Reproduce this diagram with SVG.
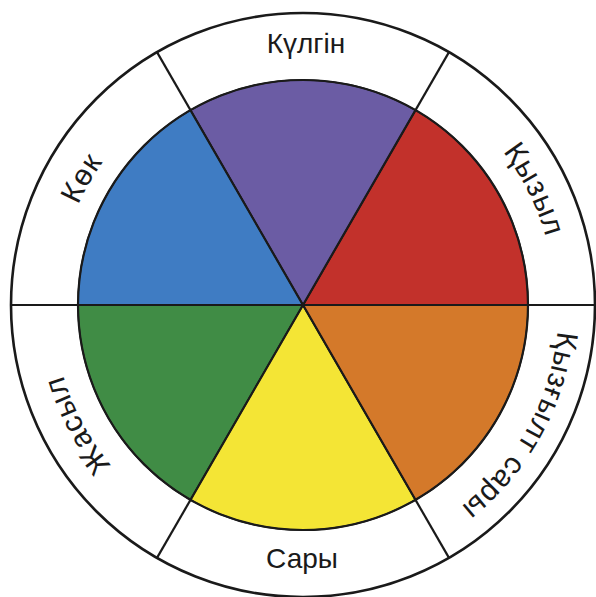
<svg xmlns="http://www.w3.org/2000/svg" width="596" height="597" viewBox="0 0 596 597">
<style>
.w{stroke:#1a1a1a;stroke-width:1.5;stroke-linejoin:round}
.lbl{font-family:"Liberation Sans",Arial,sans-serif;font-size:28px;fill:#1a1a1a;text-anchor:middle}
.arc{font-size:30px;letter-spacing:1px}
.ln{stroke:#1a1a1a;stroke-width:2.2;fill:none}
</style>
<defs>
<path id="p-kyzyl" d="M318.4,53.5 A252,252 0 0 1 513.1,444.1"/>
<path id="p-kok" d="M90.4,428.7 A246,246 0 0 1 302.1,59"/>
<path id="p-zhasyl" d="M294.3,554.8 A250,250 0 0 1 91,172.5"/>
<path id="p-kyzgylt" d="M522.4,173.2 A256,256 0 0 1 307.5,561"/>
</defs>
<rect width="596" height="597" fill="#ffffff"/>
<circle cx="303" cy="305" r="292" fill="#ffffff" stroke="#1a1a1a" stroke-width="2.6"/>
<g id="sector-kyzyl">
<path class="w" d="M303,305 L528,305 A225,225 0 0 0 415.5,110.14 Z" fill="#c2312b"/>
<text class="lbl arc"><textPath href="#p-kyzyl" startOffset="50%">Қызыл</textPath></text>
</g>
<g id="sector-kulgin">
<path class="w" d="M303,305 L415.5,110.14 A225,225 0 0 0 190.5,110.14 Z" fill="#6b5ca4"/>
<text class="lbl" x="306" y="52.5">Күлгін</text>
</g>
<g id="sector-kok">
<path class="w" d="M303,305 L190.5,110.14 A225,225 0 0 0 78,305 Z" fill="#3f7cc3"/>
<text class="lbl arc"><textPath href="#p-kok" startOffset="50%">Көк</textPath></text>
</g>
<g id="sector-zhasyl">
<path class="w" d="M303,305 L78,305 A225,225 0 0 0 190.5,499.86 Z" fill="#408c45"/>
<text class="lbl arc"><textPath href="#p-zhasyl" startOffset="50%">Жасыл</textPath></text>
</g>
<g id="sector-sary">
<path class="w" d="M303,305 L190.5,499.86 A225,225 0 0 0 415.5,499.86 Z" fill="#f4e535"/>
<text class="lbl" x="302" y="567.5">Сары</text>
</g>
<g id="sector-kyzgylt-sary">
<path class="w" d="M303,305 L415.5,499.86 A225,225 0 0 0 528,305 Z" fill="#d4792a"/>
<text class="lbl arc"><textPath href="#p-kyzgylt" startOffset="50%">Қызғылт сары</textPath></text>
</g>
<g id="connectors">
<circle class="ln" cx="303" cy="305" r="225"/>
<line class="ln" x1="11" y1="305" x2="595" y2="305"/>
<line class="ln" x1="157" y1="52.1" x2="449" y2="557.9"/>
<line class="ln" x1="449" y1="52.1" x2="157" y2="557.9"/>
</g>
</svg>
